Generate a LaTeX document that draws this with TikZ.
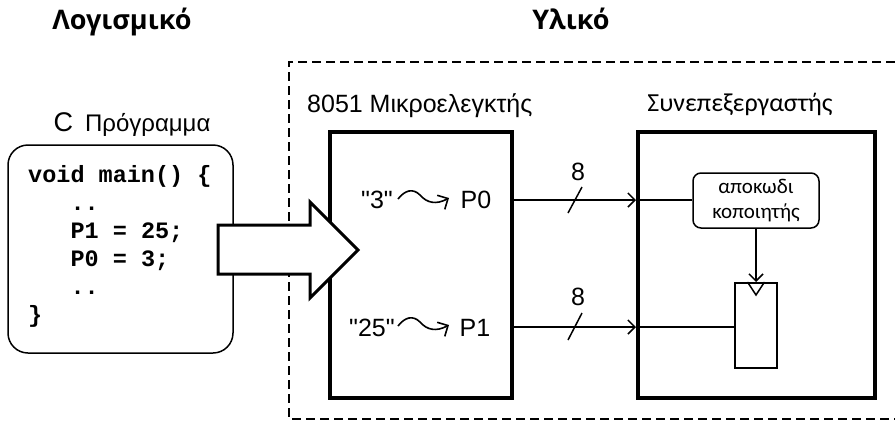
\documentclass[tikz,border=0pt]{standalone}
\usepackage{fontspec}
\setmainfont{Liberation Sans}[Ligatures=TeXOff]
\newfontfamily\calfont{Carlito}
\newfontfamily\monofnt{Liberation Mono}
\newfontfamily\titlefnt{Open Sans}
\usetikzlibrary{arrows.meta}
\begin{document}
\begin{tikzpicture}[x=1pt,y=-1pt,
  heavybox/.style={draw, line width=4pt, inner sep=0pt},
  lbl/.style={inner sep=0pt, anchor=base, font=\fontsize{25}{30}\selectfont},
  titletxt/.style={inner sep=0pt, anchor=base, font=\titlefnt\bfseries\fontsize{27}{32}\selectfont},
  wire/.style={line width=1.5pt},
  barb/.style={-{Straight Barb[length=7pt,width=14pt,line width=1.5pt]}},
  squig/.style={line width=1.6pt,-{Straight Barb[length=8pt,width=16pt,line width=1.6pt]}}
]
\useasboundingbox (0,0) rectangle (895,424);
% titles
\node[titletxt] (tsw) at (122,29) {Λογισμικό};
\node[titletxt] (thw) at (571,29) {Υλικό};
% dashed hardware region
\draw[line width=2pt, dash pattern=on 9pt off 5pt] (895,62) -- (289,62) -- (289,419) -- (895,419);
% C program
\node[lbl, font=\fontsize{24}{28}\selectfont] (cprog) at (132,131) {{\fontsize{27}{30}\selectfont C}\enspace Πρόγραμμα};
\node[draw, line width=1.5pt, rounded corners=20pt, minimum width=225pt, minimum height=208pt, inner sep=0pt] (code) at (120.5,249) {};
\node[anchor=north west, inner sep=0pt, align=left, font=\monofnt\bfseries\fontsize{23.5}{28}\selectfont] (codetxt) at (28,165)
 {void main()~\{\\~~~..\\~~~P1~=~25;\\~~~P0~=~3;\\~~~..\\\}};
% microcontroller
\node[lbl, anchor=base west] (mctitle) at (307,112) {8051 Μικροελεγκτής};
\node[heavybox, minimum width=182pt, minimum height=266pt] (micro) at (421,265) {};
% coprocessor
\node[lbl, font=\calfont\fontsize{26}{30}\selectfont] (cptitle) at (740,111) {Συνεπεξεργαστής};
\node[heavybox, minimum width=237pt, minimum height=266pt] (copro) at (756.5,265) {};
\node[draw, line width=1.5pt, rounded corners=8pt, minimum width=126pt, minimum height=55pt, inner sep=0pt, align=center, font=\calfont\fontsize{21}{25}\selectfont] (dec) at (756,200.5) {αποκωδι\\κοποιητής};
\node[draw, line width=2pt, minimum width=42pt, minimum height=85pt, inner sep=0pt] (reg) at (756,325.5) {};
\draw[line width=1.5pt] ([xshift=-8.5pt]reg.north) -- ([yshift=-13pt]reg.north) -- ([xshift=8.5pt]reg.north);
% big arrow
\draw[line width=3pt, fill=white, line join=miter] (218,225) -- (310,225) -- (310,202) -- (358,250) -- (310,298) -- (310,274) -- (218,274) -- cycle;
% port labels
\node[lbl] (v3) at (377,208) {"3"};
\node[lbl] (p0) at (476,208) {P0};
\node[lbl] (v25) at (372,336) {"25"};
\node[lbl] (p1) at (475,336) {P1};
\coordinate (s0a) at (398,199);
\coordinate (s0b) at (449,198);
\draw[squig] (s0a) .. controls (405,190) and (413,188) .. (420,195) .. controls (427,203) and (436,205) .. (s0b);
\coordinate (s1a) at (398,326);
\coordinate (s1b) at (449,325);
\draw[squig] (s1a) .. controls (405,317) and (413,315) .. (420,322) .. controls (427,330) and (436,332) .. (s1b);
% buses
\coordinate (b0) at (512,200);
\coordinate (b1) at (512,327);
\draw[wire, barb] (b0) -- (b0 -| copro.west);
\draw[wire] (b0 -| copro.west) -- (b0 -| dec.west);
\draw[wire, barb] (b1) -- (b1 -| copro.west);
\draw[wire] (b1 -| copro.west) -- (b1 -| reg.west);
\draw[wire] (568,213) -- (582,187);
\draw[wire] (568,340) -- (582,313);
\node[lbl] (w0) at (578,180) {8};
\node[lbl] (w1) at (578,305) {8};
\draw[wire, barb] (dec.south) -- (reg.north);
\end{tikzpicture}
\end{document}
